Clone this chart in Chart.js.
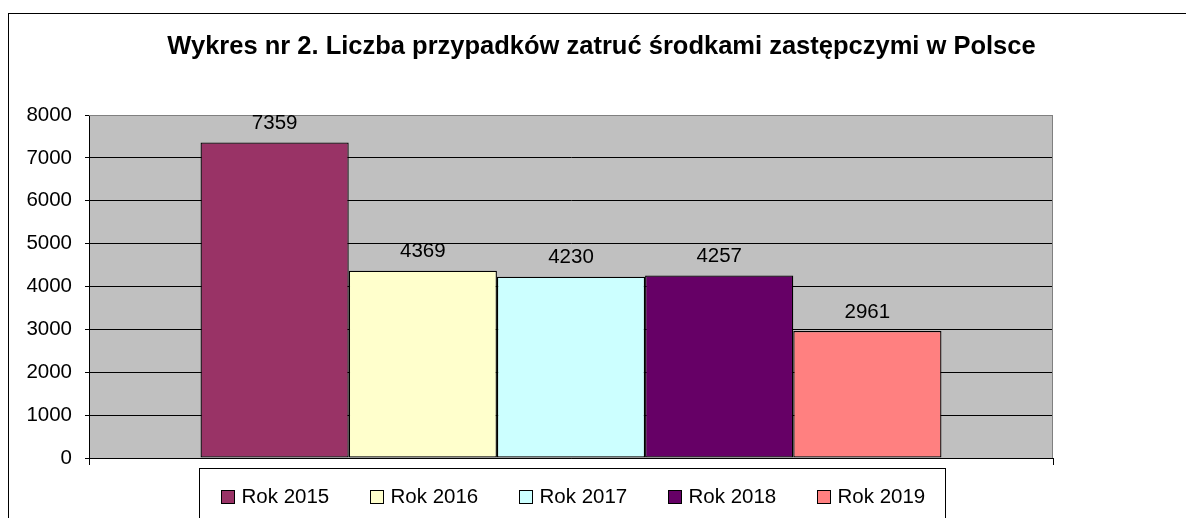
<!DOCTYPE html>
<html>
<head>
<meta charset="utf-8">
<script src="https://cdn.jsdelivr.net/npm/chart.js@4"></script>
<style>
html,body{margin:0;padding:0;background:#fff;}
canvas{display:block;}
</style>
</head>
<body>
<canvas id="c" width="1186" height="518"></canvas>
<script>
// ---- data ----
const titleText = 'Wykres nr 2. Liczba przypadków zatruć środkami zastępczymi w Polsce';
const categories = [''];
const seriesLabels = ['Rok 2015', 'Rok 2016', 'Rok 2017', 'Rok 2018', 'Rok 2019'];
const seriesValues = [7359, 4369, 4230, 4257, 2961];
const yTicks = [0, 1000, 2000, 3000, 4000, 5000, 6000, 7000, 8000];
// ---- style ----
const palette = ['#993366', '#FFFFCC', '#CCFFFF', '#660066', '#FF8080'];
const FONT = '"Liberation Sans", Arial, Helvetica, sans-serif';

const datasets = seriesLabels.map((lab, i) => ({
  label: lab,
  data: [seriesValues[i]],
  backgroundColor: palette[i],
  borderColor: '#000',
  borderWidth: 1.3,
  borderSkipped: false,
  categoryPercentage: 0.7686,
  barPercentage: 1.0
}));

const decor = {
  id: 'decor',
  beforeDraw(chart) {
    const ctx = chart.ctx, a = chart.chartArea;
    ctx.save();
    ctx.fillStyle = '#fff';
    ctx.fillRect(0, 0, chart.width, chart.height);
    // outer frame
    ctx.strokeStyle = '#000';
    ctx.lineWidth = 1;
    ctx.strokeRect(8.5, 13.5, 3000, 3000);
    // plot background
    ctx.fillStyle = '#C0C0C0';
    ctx.fillRect(a.left, a.top, a.right - a.left, a.bottom - a.top);
    // title
    ctx.fillStyle = '#000';
    ctx.font = 'bold 25.5px ' + FONT;
    ctx.textAlign = 'center';
    ctx.textBaseline = 'alphabetic';
    ctx.fillText(titleText, 601.5, 54);
    ctx.restore();
  },
  beforeDatasetsDraw(chart) {
    const ctx = chart.ctx, a = chart.chartArea;
    ctx.save();
    ctx.strokeStyle = '#808080';
    ctx.lineWidth = 1;
    ctx.beginPath();
    ctx.moveTo(a.left, a.top + 0.5);
    ctx.lineTo(a.right - 0.5, a.top + 0.5);
    ctx.lineTo(a.right - 0.5, a.bottom);
    ctx.stroke();
    ctx.restore();
  },
  afterDatasetsDraw(chart) {
    const ctx = chart.ctx;
    ctx.save();
    ctx.fillStyle = '#000';
    ctx.font = '20.5px ' + FONT;
    ctx.textAlign = 'center';
    ctx.textBaseline = 'alphabetic';
    chart.data.datasets.forEach((ds, i) => {
      const meta = chart.getDatasetMeta(i);
      meta.data.forEach((bar, j) => {
        ctx.fillText(String(ds.data[j]), bar.x, bar.y - 13.5);
      });
    });
    // legend
    ctx.strokeStyle = '#000';
    ctx.lineWidth = 1;
    ctx.strokeRect(199.5, 468.5, 746, 200);
    ctx.textAlign = 'left';
    ctx.textBaseline = 'middle';
    chart.data.datasets.forEach((ds, i) => {
      const x = 221 + i * 149;
      ctx.fillStyle = ds.backgroundColor;
      ctx.fillRect(x + 0.5, 490.5, 13, 13);
      ctx.strokeRect(x + 0.5, 490.5, 13, 13);
      ctx.fillStyle = '#000';
      ctx.fillText(ds.label, x + 20.5, 497);
    });
    ctx.restore();
  }
};

new Chart(document.getElementById('c'), {
  type: 'bar',
  data: { labels: categories, datasets },
  options: {
    responsive: false,
    animation: false,
    devicePixelRatio: 1,
    layout: { padding: { top: 115, right: 133, bottom: 0, left: 0 } },
    plugins: { legend: { display: false }, title: { display: false }, tooltip: { enabled: false } },
    scales: {
      x: {
        offset: true,
        grid: { display: true, drawOnChartArea: false, drawTicks: true, tickLength: 7, color: '#000', offset: true },
        border: { display: true, color: '#000', width: 1 },
        ticks: { display: true, callback: () => '' },
        afterFit(s) { s.height = 60; }
      },
      y: {
        min: yTicks[0],
        max: yTicks[yTicks.length - 1],
        afterBuildTicks(s) { s.ticks = yTicks.map(v => ({ value: v })); },
        grid: {
          color: (c) => (c.tick && c.tick.value === yTicks[yTicks.length - 1]) ? '#808080' : '#000',
          tickColor: '#000',
          tickLength: 4,
          lineWidth: 1
        },
        border: { display: true, color: '#000', width: 1 },
        ticks: { color: '#000', font: { family: FONT, size: 20.5 }, padding: 13, callback: (v) => String(v) },
        afterFit(s) { s.width = 89; }
      }
    }
  },
  plugins: [decor]
});
</script>
</body>
</html>
